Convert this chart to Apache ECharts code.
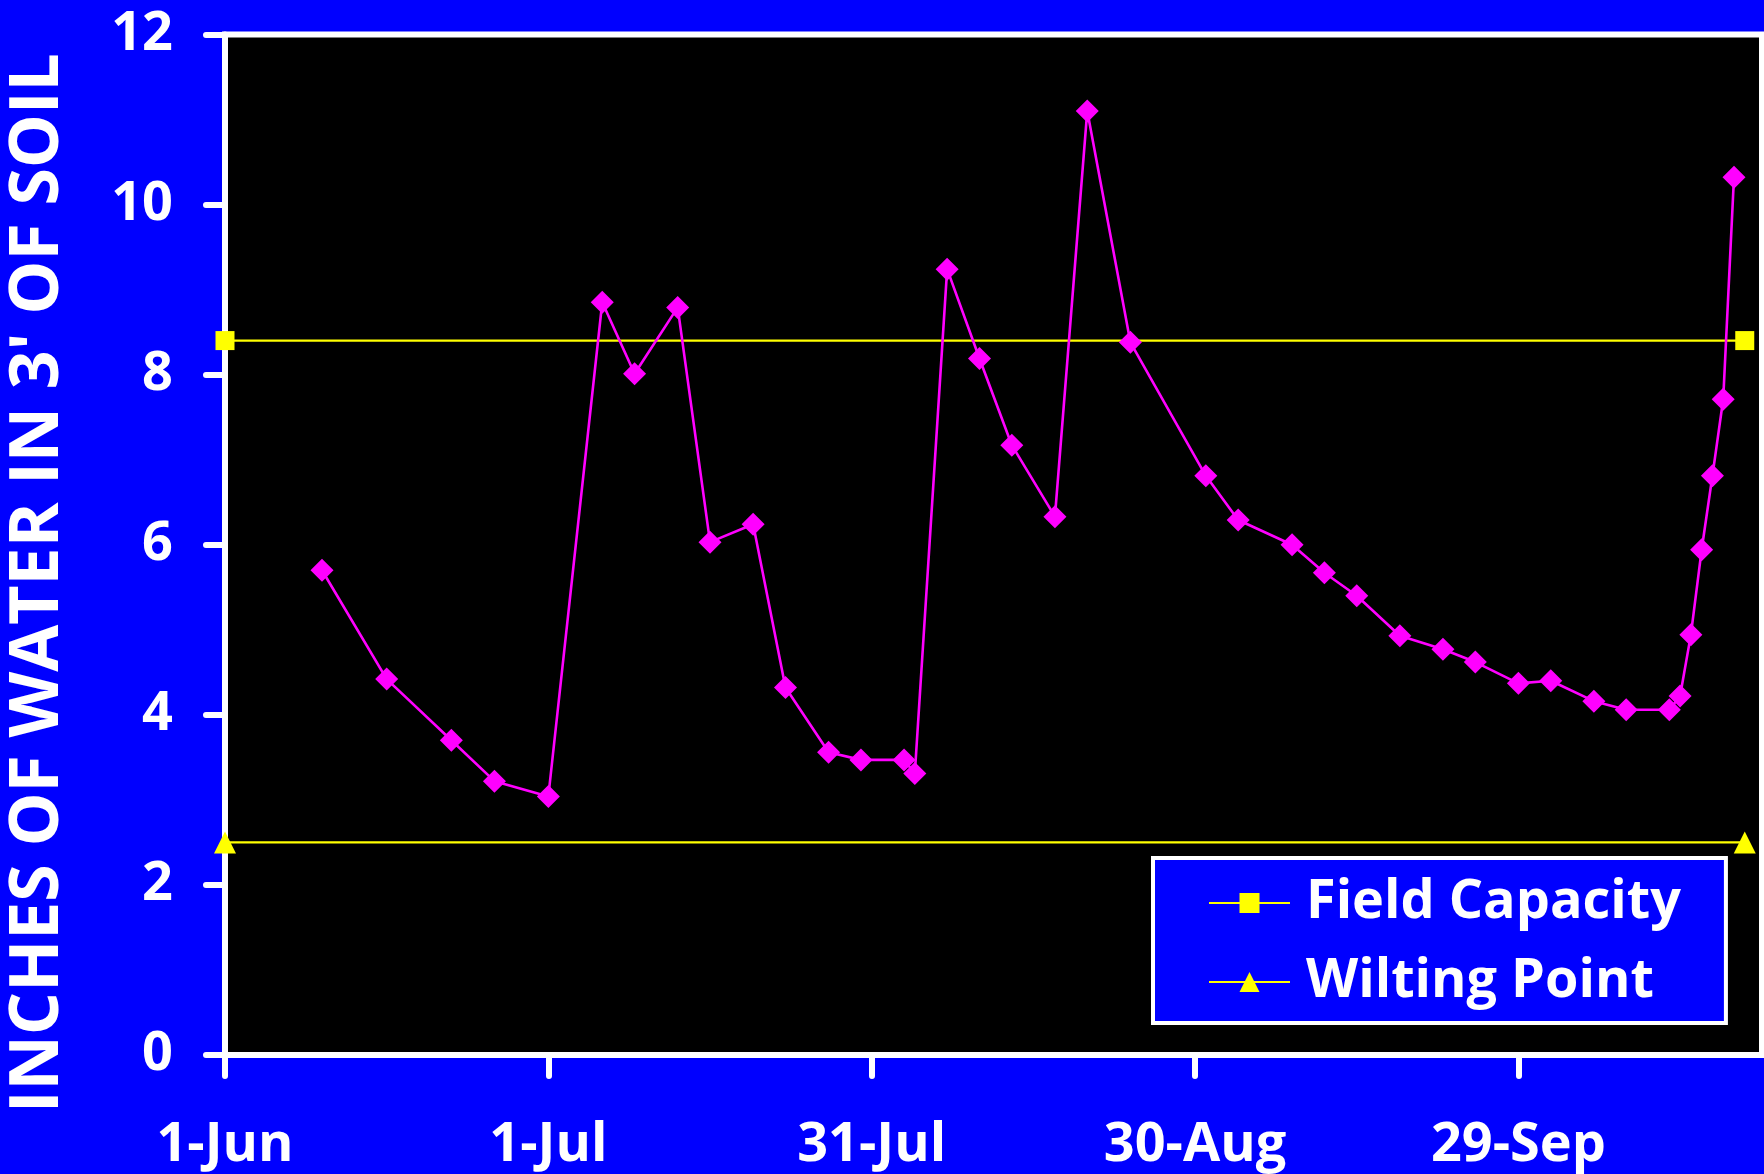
<!DOCTYPE html>
<html>
<head>
<meta charset="utf-8">
<script src="https://cdn.jsdelivr.net/npm/echarts@6/dist/echarts.min.js"></script>
<style>
  html, body { margin: 0; padding: 0; background: #0000FF; }
  #chart { width: 1764px; height: 1174px; }
</style>
</head>
<body>
<div id="chart"></div>
<script>
// ---- Data ----
const soilDates = ['10-Jun','16-Jun','22-Jun','26-Jun','1-Jul','6-Jul','9-Jul','13-Jul','16-Jul','20-Jul',
  '23-Jul','27-Jul','30-Jul','3-Aug','4-Aug','7-Aug','10-Aug','13-Aug','17-Aug','20-Aug',
  '24-Aug','31-Aug','3-Sep','8-Sep','11-Sep','14-Sep','18-Sep','22-Sep','25-Sep','29-Sep',
  '2-Oct','6-Oct','9-Oct','13-Oct','14-Oct','15-Oct','16-Oct','17-Oct','18-Oct','19-Oct'];
const soilWater = [5.70, 4.42, 3.70, 3.22, 3.04, 8.85, 8.01, 8.79, 6.03, 6.24,
  4.32, 3.56, 3.47, 3.47, 3.31, 9.24, 8.19, 7.17, 6.33, 11.10,
  8.38, 6.81, 6.29, 6.00, 5.67, 5.40, 4.93, 4.77, 4.62, 4.37,
  4.40, 4.16, 4.06, 4.06, 4.22, 4.94, 5.94, 6.81, 7.71, 10.32];
const fieldCapacityDates = ['1-Jun', '20-Oct'];
const fieldCapacity = [8.4, 8.4];
const wiltingPointDates = ['1-Jun', '20-Oct'];
const wiltingPoint = [2.5, 2.5];
const xTickLabels = ['1-Jun', '1-Jul', '31-Jul', '30-Aug', '29-Sep'];
const yTicks = [0, 2, 4, 6, 8, 10, 12];

const MONTHS = {Jan:0,Feb:1,Mar:2,Apr:3,May:4,Jun:5,Jul:6,Aug:7,Sep:8,Oct:9,Nov:10,Dec:11};
function dayOf(s) {
  const [d, m] = s.split('-');
  return Math.round((Date.UTC(2001, MONTHS[m], +d) - Date.UTC(2001, 5, 1)) / 86400000);
}
const pairs = (dates, vals) => dates.map((d, i) => [dayOf(d), vals[i]]);
const xTickDays = xTickLabels.map(dayOf);

const FONT = '"Open Sans", "Noto Sans", sans-serif';
const chart = echarts.init(document.getElementById('chart'));
chart.setOption({
  backgroundColor: '#0000FF',
  animation: false,
  grid: {
    left: 225, right: 2, top: 34.4, bottom: 119,
    show: true, backgroundColor: '#000000', borderColor: '#ffffff', borderWidth: 6
  },
  xAxis: {
    type: 'value', min: 0, max: 142.6, interval: 30,
    axisLine: { show: true, lineStyle: { color: '#ffffff', width: 6 } },
    axisTick: { show: true, length: 21, customValues: xTickDays,
      lineStyle: { color: '#ffffff', width: 6, cap: 'round' } },
    axisLabel: { customValues: xTickDays, margin: 64, color: '#ffffff', fontFamily: FONT,
      fontWeight: 'bold', fontSize: 54,
      formatter: v => xTickLabels[xTickDays.indexOf(Math.round(v))] || '' },
    splitLine: { show: false }
  },
  yAxis: {
    type: 'value', min: yTicks[0], max: yTicks[yTicks.length - 1], interval: 2,
    axisLine: { show: true, lineStyle: { color: '#ffffff', width: 6 } },
    axisTick: { show: true, length: 19, lineStyle: { color: '#ffffff', width: 6, cap: 'round' } },
    axisLabel: { margin: 52, color: '#ffffff', fontFamily: FONT, fontWeight: 'bold', fontSize: 54 },
    splitLine: { show: false }
  },
  legend: {
    data: ['Field Capacity', 'Wilting Point'],
    orient: 'vertical', left: 1153, top: 858,
    itemWidth: 81, itemHeight: 25, itemGap: 25,
    backgroundColor: '#0000FF', borderColor: '#ffffff', borderWidth: 4,
    padding: [18, 45, 14, 55],
    textStyle: { color: '#ffffff', fontFamily: FONT, fontWeight: 'bold', fontSize: 54, padding: [0, 0, 0, 11] }
  },
  graphic: [{
    type: 'text', x: 38.6, y: 583, rotation: Math.PI / 2,
    style: { text: "INCHES OF WATER IN 3' OF SOIL", fill: '#ffffff',
      font: 'bold 68px ' + FONT, textAlign: 'center', textVerticalAlign: 'middle' }
  }],
  series: [
    { name: 'Field Capacity', type: 'line', data: pairs(fieldCapacityDates, fieldCapacity),
      clip: false, symbol: 'rect', symbolSize: 19, color: '#FFFF00',
      lineStyle: { color: '#FFFF00', width: 2.2 }, itemStyle: { color: '#FFFF00' } },
    { name: 'Wilting Point', type: 'line', data: pairs(wiltingPointDates, wiltingPoint),
      clip: false, symbol: 'triangle', symbolSize: [22, 22], color: '#FFFF00',
      lineStyle: { color: '#FFFF00', width: 2.2 }, itemStyle: { color: '#FFFF00' } },
    { name: 'Soil Water', type: 'line', data: pairs(soilDates, soilWater),
      clip: false, symbol: 'diamond', symbolSize: 23, color: '#FF00FF',
      lineStyle: { color: '#FF00FF', width: 2.6 }, itemStyle: { color: '#FF00FF' } }
  ]
});
</script>
</body>
</html>
